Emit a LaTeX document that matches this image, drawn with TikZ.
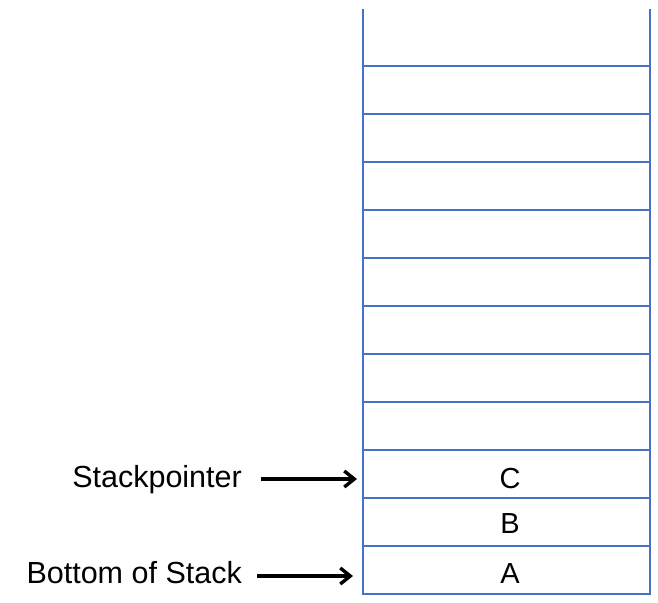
\documentclass[tikz,border=0pt]{standalone}
\usepackage{fontspec}
\setmainfont{Liberation Sans}
\usetikzlibrary{arrows.meta}
\definecolor{stackblue}{RGB}{68,114,196}
\begin{document}
\begin{tikzpicture}[x=1pt,y=-1pt,
  stackline/.style={draw=stackblue,line width=1.4pt},
  lbl/.style={font=\fontsize{30.5}{36}\selectfont,inner sep=0pt,anchor=base east},
  cell/.style={font=\fontsize{29}{35}\selectfont,inner sep=0pt,anchor=base},
  pointer/.style={draw=black,line width=3.4pt,-{Straight Barb[length=10pt,width=16pt,line width=3.4pt]}}]
\useasboundingbox (0,0) rectangle (658,602);
% stack outline
\draw[stackline] (363,9) -- (363,594) -- (650,594) -- (650,9);
\foreach \y in {66,114,162,210,258,306,354,402,450,498,546}
  \draw[stackline] (363,\y) -- (650,\y);
% cell contents
\node[cell] (c) at (510,488) {C};
\node[cell] (b) at (510,533) {B};
\node[cell] (a) at (510,583) {A};
% labels
\node[lbl] (sp) at (242,487) {Stackpointer};
\node[lbl] (bs) at (242,583) {Bottom of Stack};
\coordinate (spend) at (357,479);
\coordinate (bsend) at (353,576);
\coordinate (spstart) at (261,479);
\coordinate (bsstart) at (257,576);
\draw[pointer] (spstart) -- (spend);
\draw[pointer] (bsstart) -- (bsend);
\end{tikzpicture}
\end{document}
